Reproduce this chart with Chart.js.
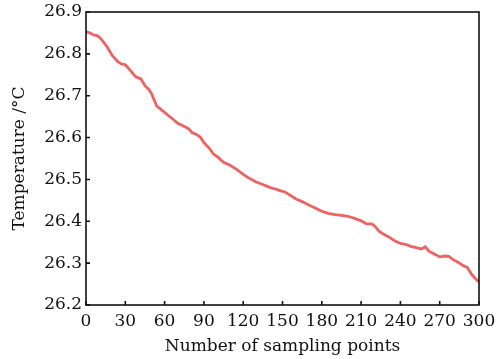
<!DOCTYPE html>
<html>
<head>
<meta charset="utf-8">
<script src="https://cdn.jsdelivr.net/npm/chart.js@4.4.0/dist/chart.umd.min.js"></script>
<style>
  html, body { margin: 0; padding: 0; background: #fff; }
  #wrap { width: 497px; height: 359px; }
</style>
</head>
<body>
<div id="wrap"><canvas id="tempChart" width="497" height="359"></canvas></div>
<script>
// sampling point index and temperature
var samplePoints = [0, 3, 6, 9, 12, 16, 20, 24, 27, 30, 34, 38, 42, 45, 48, 50, 52, 54, 57, 62,
    66, 70, 74, 78, 81, 84, 87, 90, 94, 97, 101, 105, 110, 115, 120, 125, 130, 135, 138, 142,
    146, 148, 152, 156, 160, 165, 170, 175, 180, 185, 190, 195, 200, 205, 210, 214, 218, 220, 224, 228,
    232, 236, 240, 244, 248, 252, 256, 259, 262, 266, 270, 274, 277, 280, 284, 288, 291, 294, 297, 300];
var temperatures = [26.853, 26.850, 26.845, 26.843, 26.834, 26.817, 26.796, 26.782, 26.776, 26.774,
    26.760, 26.745, 26.740, 26.724, 26.715, 26.705, 26.690, 26.675, 26.668, 26.655,
    26.645, 26.634, 26.628, 26.622, 26.612, 26.608, 26.602, 26.588, 26.575, 26.562,
    26.552, 26.541, 26.534, 26.524, 26.512, 26.502, 26.494, 26.488, 26.484, 26.479,
    26.476, 26.473, 26.470, 26.462, 26.454, 26.447, 26.439, 26.432, 26.424, 26.419,
    26.416, 26.414, 26.412, 26.407, 26.401, 26.394, 26.394, 26.390, 26.375, 26.368,
    26.361, 26.353, 26.347, 26.345, 26.340, 26.337, 26.334, 26.339, 26.328, 26.322,
    26.315, 26.317, 26.316, 26.309, 26.302, 26.294, 26.290, 26.275, 26.264, 26.255];
var xTicks = [0, 30, 60, 90, 120, 150, 180, 210, 240, 270, 300];
var yTicks = [26.2, 26.3, 26.4, 26.5, 26.6, 26.7, 26.8, 26.9];

var serif = '"DejaVu Serif", serif';

// box around the plot plus inward tick marks
var frameAndTicks = {
    id: 'frameAndTicks',
    afterDraw: function(chart) {
        var ctx = chart.ctx;
        var area = chart.chartArea;
        var xs = chart.scales.x, ys = chart.scales.y;
        ctx.save();
        ctx.strokeStyle = '#111';
        ctx.lineWidth = 1.6;
        ctx.strokeRect(area.left, area.top, area.right - area.left, area.bottom - area.top);
        ctx.beginPath();
        xTicks.forEach(function(v) {
            var px = xs.getPixelForValue(v);
            ctx.moveTo(px, area.bottom);
            ctx.lineTo(px, area.bottom - 4);
        });
        yTicks.forEach(function(v) {
            var py = ys.getPixelForValue(v);
            ctx.moveTo(area.left, py);
            ctx.lineTo(area.left + 4, py);
        });
        ctx.stroke();
        ctx.restore();
    }
};

var ctx1 = document.getElementById('tempChart').getContext('2d');
new Chart(ctx1, {
    type: 'line',
    data: {
        datasets: [{
            label: 'Temperature',
            data: samplePoints.map(function(s, i) { return { x: s, y: temperatures[i] }; }),
            borderColor: 'rgb(240, 98, 98)',
            borderWidth: 2.8,
            pointRadius: 0,
            fill: false,
            tension: 0
        }]
    },
    options: {
        responsive: false,
        animation: false,
        layout: { padding: { top: 12, right: 18, left: 0, bottom: 0 } },
        plugins: {
            legend: { display: false },
            tooltip: { enabled: false }
        },
        scales: {
            x: {
                type: 'linear',
                min: 0,
                max: 300,
                afterBuildTicks: function(scale) {
                    scale.ticks = xTicks.map(function(v) { return { value: v }; });
                },
                afterFit: function(scale) {
                    scale.height = 54;
                    scale.paddingLeft = 0;
                    scale.paddingRight = 0;
                },
                grid: { display: false, drawTicks: false },
                border: { display: false },
                ticks: {
                    padding: 6,
                    color: '#111',
                    maxRotation: 0,
                    autoSkip: false,
                    font: { family: serif, size: 17 }
                },
                title: {
                    display: true,
                    text: 'Number of sampling points',
                    color: '#111',
                    padding: { top: -2, bottom: 2 },
                    font: { family: serif, size: 17 }
                }
            },
            y: {
                min: 26.2,
                max: 26.9,
                afterBuildTicks: function(scale) {
                    scale.ticks = yTicks.map(function(v) { return { value: v }; });
                },
                afterFit: function(scale) {
                    scale.width = 86;
                    scale.paddingTop = 0;
                    scale.paddingBottom = 0;
                },
                grid: { display: false, drawTicks: false },
                border: { display: false },
                ticks: {
                    padding: 4,
                    color: '#111',
                    autoSkip: false,
                    font: { family: serif, size: 17 },
                    callback: function(v) { return Number(v).toFixed(1); }
                },
                title: {
                    display: true,
                    text: 'Temperature /\u00b0C',
                    color: '#111',
                    padding: { top: 9, bottom: 0 },
                    font: { family: serif, size: 17 }
                }
            }
        }
    },
    plugins: [frameAndTicks]
});
</script>
</body>
</html>
